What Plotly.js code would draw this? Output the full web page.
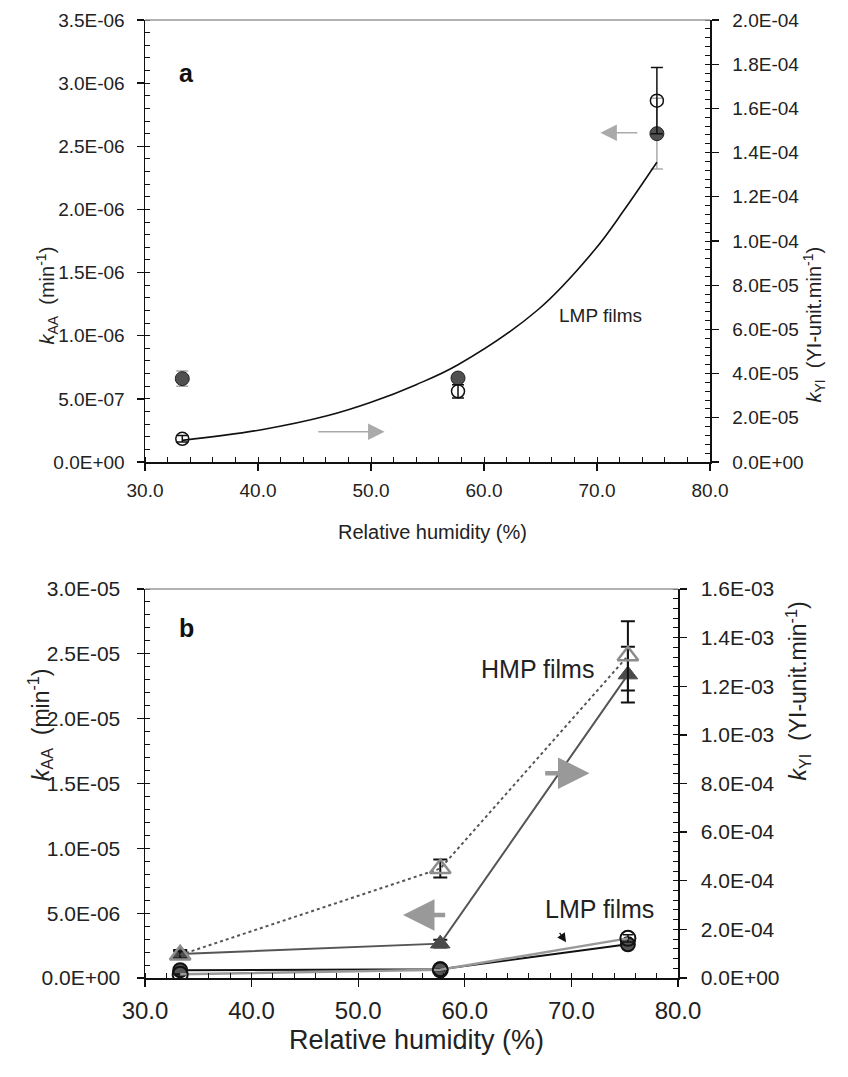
<!DOCTYPE html>
<html><head><meta charset="utf-8">
<script src="https://cdn.plot.ly/plotly-3.0.1.min.js"></script>
<style>html,body{margin:0;padding:0;background:#fff}#chart{width:848px;height:1077px}</style>
</head><body><div id="chart"></div>
<script>
// ---------- data ----------
const X_TICK_VALS = [30, 40, 50, 60, 70, 80];
const X_TICK_TEXT = ['30.0', '40.0', '50.0', '60.0', '70.0', '80.0'];

const A_LEFT_VALS = [0, 5e-7, 1e-6, 1.5e-6, 2e-6, 2.5e-6, 3e-6, 3.5e-6];
const A_LEFT_TEXT = ['0.0E+00', '5.0E-07', '1.0E-06', '1.5E-06', '2.0E-06', '2.5E-06', '3.0E-06', '3.5E-06'];
const A_RIGHT_VALS = [0, 2e-5, 4e-5, 6e-5, 8e-5, 1e-4, 1.2e-4, 1.4e-4, 1.6e-4, 1.8e-4, 2e-4];
const A_RIGHT_TEXT = ['0.0E+00', '2.0E-05', '4.0E-05', '6.0E-05', '8.0E-05', '1.0E-04', '1.2E-04', '1.4E-04', '1.6E-04', '1.8E-04', '2.0E-04'];

const B_LEFT_VALS = [0, 5e-6, 1e-5, 1.5e-5, 2e-5, 2.5e-5, 3e-5];
const B_LEFT_TEXT = ['0.0E+00', '5.0E-06', '1.0E-05', '1.5E-05', '2.0E-05', '2.5E-05', '3.0E-05'];
const B_RIGHT_VALS = [0, 2e-4, 4e-4, 6e-4, 8e-4, 1e-3, 1.2e-3, 1.4e-3, 1.6e-3];
const B_RIGHT_TEXT = ['0.0E+00', '2.0E-04', '4.0E-04', '6.0E-04', '8.0E-04', '1.0E-03', '1.2E-03', '1.4E-03', '1.6E-03'];

// panel a (LMP films)
const A_RH = [33.3, 57.7, 75.3];
const A_KAA = [6.6e-7, 6.65e-7, 2.6e-6];
const A_KAA_ERR = [0.6e-7, 0.2e-7, 2.8e-7];
const A_KYI = [1.05e-5, 3.2e-5, 1.635e-4];
const A_KYI_ERR = [1.5e-6, 3.0e-6, 1.5e-5];
const A_CURVE_RH = [33.3, 40.2, 46.2, 50.0, 54.0, 57.7, 64.8, 69.8, 72.4, 75.3];
const A_CURVE_KYI = [0.98e-5, 1.45e-5, 2.1e-5, 2.7e-5, 3.5e-5, 4.4e-5, 6.9e-5, 9.6e-5, 1.14e-4, 1.356e-4];

// panel b
const B_RH = [33.3, 57.7, 75.3];
const B_HMP_KAA = [1.85e-6, 2.65e-6, 2.34e-5];
const B_HMP_KAA_ERR = [0.3e-6, 0.3e-6, 2.15e-6];
const B_HMP_KYI = [9.5e-5, 4.5e-4, 1.325e-3];
const B_HMP_KYI_ERR = [1.5e-5, 3.7e-5, 1.42e-4];
const B_LMP_KAA = [6.0e-7, 6.7e-7, 2.6e-6];
const B_LMP_KAA_ERR = [0.5e-7, 0.5e-7, 2.8e-7];
const B_LMP_KYI = [1.5e-5, 3.4e-5, 1.63e-4];
const B_LMP_KYI_ERR = [1.5e-6, 3.0e-6, 1.5e-5];

// ---------- layout helpers ----------
const W = 848, H = 1077;
const px = v => v / W, py = v => 1 - v / H;
const FONT = 'Liberation Sans, Arial, Helvetica, sans-serif';

const traces = [
  // panel a
  {x: A_CURVE_RH, y: A_CURVE_KYI, xaxis: 'x', yaxis: 'y2', mode: 'lines', line: {color: '#111', width: 1.6, shape: 'spline', smoothing: 1}, hoverinfo: 'skip'},
  {x: A_RH, y: A_KYI, xaxis: 'x', yaxis: 'y2', mode: 'markers',
   marker: {symbol: 'circle', size: 13, color: 'rgba(255,255,255,0)', line: {color: '#111', width: 1.5}},
   error_y: {type: 'data', array: A_KYI_ERR, color: '#111', thickness: 1.5, width: 6}},
  {x: A_RH, y: A_KAA, xaxis: 'x', yaxis: 'y', mode: 'markers',
   marker: {symbol: 'circle', size: 14, color: '#505050', line: {color: '#222', width: 1}},
   error_y: {type: 'data', array: A_KAA_ERR, color: '#aaa', thickness: 1.5, width: 6}},
  // panel b
  {x: B_RH, y: B_HMP_KYI, xaxis: 'x2', yaxis: 'y4', mode: 'lines+markers',
   line: {color: '#555', width: 2, dash: 'dot'},
   marker: {symbol: 'triangle-up', size: 18, color: 'rgba(255,255,255,0)', line: {color: '#8c8c8c', width: 2.5}},
   error_y: {type: 'data', array: B_HMP_KYI_ERR, color: '#111', thickness: 2, width: 7}},
  {x: B_RH, y: B_HMP_KAA, xaxis: 'x2', yaxis: 'y3', mode: 'lines+markers',
   line: {color: '#555', width: 2},
   marker: {symbol: 'triangle-up', size: 17, color: '#4a4a4a', line: {color: '#4a4a4a', width: 1}},
   error_y: {type: 'data', array: B_HMP_KAA_ERR, color: '#111', thickness: 2, width: 7}},
  {x: B_RH, y: B_LMP_KYI, xaxis: 'x2', yaxis: 'y4', mode: 'lines+markers',
   line: {color: '#999', width: 2.5},
   marker: {symbol: 'circle', size: 15, color: 'rgba(255,255,255,0)', line: {color: '#111', width: 2}},
   error_y: {type: 'data', array: B_LMP_KYI_ERR, color: '#111', thickness: 1.5, width: 5}},
  {x: B_RH, y: B_LMP_KAA, xaxis: 'x2', yaxis: 'y3', mode: 'lines+markers',
   line: {color: '#111', width: 2},
   marker: {symbol: 'circle', size: 14, color: '#555', line: {color: '#111', width: 2}},
   error_y: {type: 'data', array: B_LMP_KAA_ERR, color: '#aaa', thickness: 1.5, width: 5}}
];

const A_TOP = 20, A_BOT = 462, B_TOP = 589, B_BOT = 978;
const A_L = 145, A_R = 710, B_L = 145, B_R = 678;

function xax(dom, anchor, fs) {
  return {domain: [px(dom[0]), px(dom[1])], anchor: anchor, range: [30, 80], tickmode: 'array',
    tickvals: X_TICK_VALS, ticktext: X_TICK_TEXT, ticks: 'outside', ticklen: 7, tickwidth: 1.3, tickcolor: '#111',
    minor: {tickmode: 'linear', tick0: 30, dtick: 2, ticks: 'inside', ticklen: 5, tickcolor: '#111', tickwidth: 1},
    showline: true, linecolor: '#111', linewidth: 1.5, showgrid: false, zeroline: false,
    tickfont: {family: FONT, size: fs, color: '#222'}, ticklabelstandoff: 4, fixedrange: true};
}
function yax(dom, vals, text, range, side, minorD, fs, overlay, anchor, standoff) {
  const o = {domain: [py(dom[1]), py(dom[0])], anchor: anchor, range: range, side: side, tickmode: 'array',
    tickvals: vals, ticktext: text, ticks: 'outside', ticklen: 7, tickwidth: 1.3, tickcolor: '#111',
    minor: {tickmode: 'linear', tick0: 0, dtick: minorD, ticks: 'inside', ticklen: 5, tickcolor: '#111', tickwidth: 1},
    showline: true, linecolor: '#111', linewidth: 1.5, showgrid: false, zeroline: false,
    tickfont: {family: FONT, size: fs, color: '#222'}, ticklabelstandoff: standoff, fixedrange: true};
  if (overlay) o.overlaying = overlay;
  return o;
}

const layout = {
  width: W, height: H, margin: {l: 0, r: 0, t: 0, b: 0}, showlegend: false,
  paper_bgcolor: '#fff', plot_bgcolor: 'rgba(0,0,0,0)',
  xaxis: xax([A_L, A_R], 'y', 19),
  yaxis: yax([A_TOP, A_BOT], A_LEFT_VALS, A_LEFT_TEXT, [0, 3.5e-6], 'left', 1e-7, 19, null, 'x', 8),
  yaxis2: yax([A_TOP, A_BOT], A_RIGHT_VALS, A_RIGHT_TEXT, [0, 2e-4], 'right', 4e-6, 19, 'y', 'x', 10),
  xaxis2: xax([B_L, B_R], 'y3', 24),
  yaxis3: yax([B_TOP, B_BOT], B_LEFT_VALS, B_LEFT_TEXT, [0, 3e-5], 'left', 1e-6, 21, null, 'x2', 12),
  yaxis4: yax([B_TOP, B_BOT], B_RIGHT_VALS, B_RIGHT_TEXT, [0, 1.6e-3], 'right', 4e-5, 21, 'y3', 'x2', 10),
  shapes: [
    {type: 'line', xref: 'paper', yref: 'paper', x0: px(A_L), x1: px(A_R), y0: py(A_TOP), y1: py(A_TOP), line: {color: '#999', width: 1.5}},
    {type: 'line', xref: 'paper', yref: 'paper', x0: px(B_L), x1: px(B_R), y0: py(B_TOP), y1: py(B_TOP), line: {color: '#999', width: 1.5}}
  ],
  annotations: [
    // panel letters
    {text: '<b>a</b>', xref: 'paper', yref: 'paper', x: px(177), y: py(57), showarrow: false, font: {family: FONT, size: 25, color: '#111'}},
    {text: '<b>b</b>', xref: 'paper', yref: 'paper', x: px(177), y: py(628), showarrow: false, font: {family: FONT, size: 25, color: '#111'}},
    // axis titles
    {text: 'Relative humidity (%)', xref: 'paper', yref: 'paper', x: px(432), y: py(532), showarrow: false, font: {family: FONT, size: 20, color: '#222'}},
    {text: 'Relative humidity (%)', xref: 'paper', yref: 'paper', x: px(416), y: py(1057), showarrow: false, font: {family: FONT, size: 27, color: '#222'}},
    {text: '<i>k</i><sub>AA</sub>  (min<sup>-1</sup>)', xref: 'paper', yref: 'paper', x: px(30), y: py(245), textangle: -90, showarrow: false, font: {family: FONT, size: 20, color: '#222'}},
    {text: '<i>k</i><sub>YI</sub>  (YI-unit.min<sup>-1</sup>)', xref: 'paper', yref: 'paper', x: px(830), y: py(245), textangle: -90, showarrow: false, font: {family: FONT, size: 20, color: '#222'}},
    {text: '<i>k</i><sub>AA</sub>  (min<sup>-1</sup>)', xref: 'paper', yref: 'paper', x: px(22), y: py(783), textangle: -90, showarrow: false, font: {family: FONT, size: 23, color: '#222'}},
    {text: '<i>k</i><sub>YI</sub>  (YI-unit.min<sup>-1</sup>)', xref: 'paper', yref: 'paper', x: px(815), y: py(783), textangle: -90, showarrow: false, font: {family: FONT, size: 23, color: '#222'}},
    // labels
    {text: 'LMP films', xref: 'x', yref: 'y', x: 70.3, y: 1.16e-6, showarrow: false, font: {family: FONT, size: 19, color: '#222'}},
    {text: 'HMP films', xref: 'x2', yref: 'y3', x: 66.8, y: 2.38e-5, showarrow: false, font: {family: FONT, size: 25, color: '#222'}},
    {text: 'LMP films', xref: 'x2', yref: 'y3', x: 72.6, y: 5.3e-6, showarrow: false, font: {family: FONT, size: 25, color: '#222'}},
    // arrows panel a
    {text: '', xref: 'x', yref: 'y', axref: 'x', ayref: 'y', x: 70.3, y: 2.607e-6, ax: 73.7, ay: 2.607e-6, showarrow: true, arrowhead: 2, arrowsize: 2.2, arrowwidth: 1.5, arrowcolor: '#aaa'},
    {text: '', xref: 'x', yref: 'y', axref: 'x', ayref: 'y', x: 51.2, y: 2.4e-7, ax: 45.2, ay: 2.4e-7, showarrow: true, arrowhead: 2, arrowsize: 2.2, arrowwidth: 1.5, arrowcolor: '#aaa'},
    // arrows panel b
    {text: '', xref: 'x2', yref: 'y3', axref: 'x2', ayref: 'y3', x: 54.2, y: 4.86e-6, ax: 58.3, ay: 4.86e-6, showarrow: true, arrowhead: 2, arrowsize: 1.4, arrowwidth: 4.5, arrowcolor: '#999'},
    {text: '', xref: 'x2', yref: 'y3', axref: 'x2', ayref: 'y3', x: 71.7, y: 1.58e-5, ax: 67.4, ay: 1.58e-5, showarrow: true, arrowhead: 2, arrowsize: 1.4, arrowwidth: 4.5, arrowcolor: '#999'},
    {text: '', xref: 'x2', yref: 'y3', axref: 'x2', ayref: 'y3', x: 69.5, y: 2.75e-6, ax: 68.8, ay: 3.6e-6, showarrow: true, arrowhead: 2, arrowsize: 1.5, arrowwidth: 1.2, arrowcolor: '#111'}
  ]
};

Plotly.newPlot('chart', traces, layout, {displayModeBar: false, staticPlot: true});
</script>
</body></html>
